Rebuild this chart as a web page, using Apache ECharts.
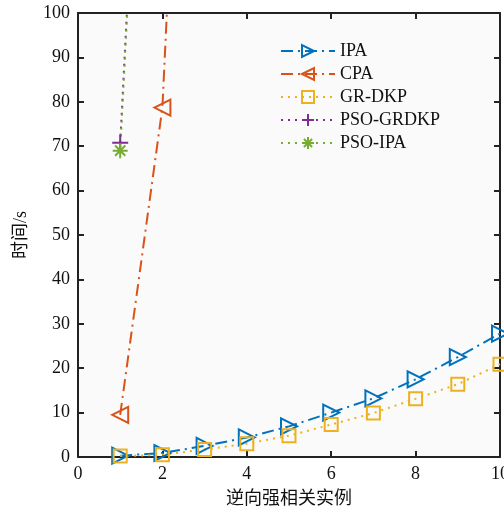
<!DOCTYPE html>
<html><head><meta charset="utf-8">
<script src="https://cdn.jsdelivr.net/npm/echarts@6/dist/echarts.min.js"></script>
<style>html,body{margin:0;padding:0;background:#fff}#c{width:504px;height:513px}</style>
</head><body><div id="c"></div>
<script>
const xValues = [1, 2, 3, 4, 5, 6, 7, 8, 9, 10];
const ipa = [0.3, 0.9, 2.5, 4.4, 6.9, 10.0, 13.2, 17.5, 22.5, 27.8];
const cpa = [9.5, 78.7, 280];
const grdkp = [0.2, 0.5, 1.7, 3.0, 4.8, 7.3, 9.9, 13.1, 16.4, 20.9];
const psoGrdkp = [70.8, 255];
const psoIpa = [69.0, 255];
const seriesNames = ['IPA', 'CPA', 'GR-DKP', 'PSO-GRDKP', 'PSO-IPA'];
const xLabel = '逆向强相关实例';
const yLabel = '时间/s';

const pairs = arr => arr.map((v, i) => [xValues[i], v]);
const font = '"Liberation Serif", "Noto Sans CJK SC", serif';
const plusPath = 'path://M0,5L10,5M5,0L5,10';
const starPath = 'path://M0,5L10,5M5,0L5,10M1.6,1.6L8.4,8.4M1.6,8.4L8.4,1.6';

function mk(name, data, color, type, symbol, size, rotate) {
  return {
    name, type: 'line', data: pairs(data), clip: true,
    symbol, symbolSize: size, symbolRotate: rotate || 0,
    lineStyle: { color, width: 2, type },
    itemStyle: { color: 'rgba(0,0,0,0)', borderColor: color, borderWidth: 2 },
    emphasis: { disabled: true }, z: 3
  };
}

const tickStyle = { inside: true, length: 6, lineStyle: { color: '#222', width: 2 } };
const lineStyleAxis = { show: true, onZero: false, lineStyle: { color: '#222', width: 2 } };
const labelStyle = { fontFamily: font, fontSize: 18, color: '#111', margin: 8 };
const nameStyle = { fontFamily: font, fontSize: 18, color: '#111' };

const chart = echarts.init(document.getElementById('c'));
chart.setOption({
  animation: false,
  backgroundColor: '#fff',
  grid: { left: 78, right: 4, top: 13, bottom: 56, show: true, backgroundColor: '#fafafa', borderWidth: 0,
          containLabel: false, outerBoundsMode: 'none' },
  legend: {
    orient: 'vertical', left: 275, top: 37, itemWidth: 54, itemHeight: 15, itemGap: 5,
    textStyle: { fontFamily: font, fontSize: 18, color: '#111' },
    data: seriesNames
  },
  xAxis: [{
    type: 'value', min: 0, max: 10, interval: 2,
    name: xLabel, nameLocation: 'middle', nameGap: 33, nameTextStyle: nameStyle,
    axisLine: lineStyleAxis, axisTick: tickStyle, axisLabel: labelStyle,
    splitLine: { show: false }
  }, {
    type: 'value', min: 0, max: 10, interval: 2, position: 'top',
    axisLine: lineStyleAxis, axisTick: tickStyle,
    axisLabel: { show: false }, splitLine: { show: false }
  }],
  yAxis: [{
    type: 'value', min: 0, max: 100, interval: 10,
    name: yLabel, nameLocation: 'middle', nameGap: 48, nameRotate: 90, nameTextStyle: nameStyle,
    axisLine: lineStyleAxis, axisTick: tickStyle, axisLabel: labelStyle,
    splitLine: { show: false }
  }, {
    type: 'value', min: 0, max: 100, interval: 10, position: 'right',
    axisLine: lineStyleAxis, axisTick: tickStyle,
    axisLabel: { show: false }, splitLine: { show: false }
  }],
  series: [
    mk('IPA', ipa, '#0072BD', [12, 5, 2, 5], 'triangle', 16, -90),
    mk('CPA', cpa, '#D95319', [12, 5, 2, 5], 'triangle', 16, 90),
    mk('GR-DKP', grdkp, '#EDB120', [2, 5], 'rect', 13),
    mk('PSO-GRDKP', psoGrdkp, '#7E2F8E', [2, 5], plusPath, 16),
    mk('PSO-IPA', psoIpa, '#77AC30', [2, 5], starPath, 15)
  ]
});
</script></body></html>
